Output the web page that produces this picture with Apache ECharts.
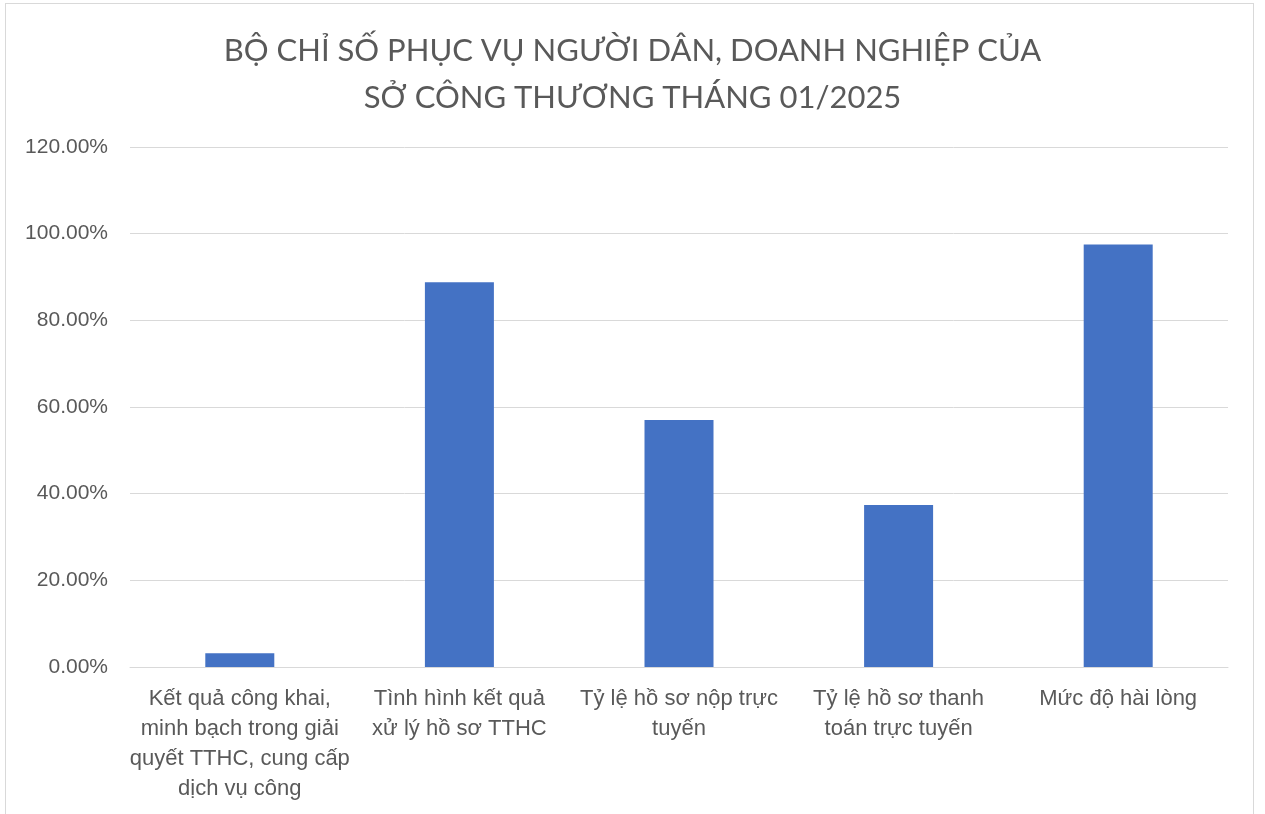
<!DOCTYPE html>
<html>
<head>
<meta charset="utf-8">
<script src="https://cdn.jsdelivr.net/npm/echarts@6/dist/echarts.min.js"></script>
<style>
  html, body { margin: 0; padding: 0; background: #fff; }
  .frame {
    position: absolute; left: 5px; top: 3px; width: 1249px; height: 830px;
    border: 1px solid #d9d9d9; box-sizing: border-box;
  }
  #chart { position: absolute; left: 0; top: 0; width: 1265px; height: 814px; }
</style>
</head>
<body>
<div class="frame"></div>
<div id="chart"></div>
<script>
// tên các chỉ số (xuống dòng như trên hình)
const categories = [
  'Kết quả công khai,\nminh bạch trong giải\nquyết TTHC, cung cấp\ndịch vụ công',
  'Tình hình kết quả\nxử lý hồ sơ TTHC',
  'Tỷ lệ hồ sơ nộp trực\ntuyến',
  'Tỷ lệ hồ sơ thanh\ntoán trực tuyến',
  'Mức độ hài lòng'
];
const values = [0.032, 0.888, 0.570, 0.374, 0.975];
const yTicks = [0, 0.2, 0.4, 0.6, 0.8, 1.0, 1.2];

const titleText = 'BỘ CHỈ SỐ PHỤC VỤ NGƯỜI DÂN, DOANH NGHIỆP CỦA\nSỞ CÔNG THƯƠNG THÁNG 01/2025';

let myChart = echarts.init(document.getElementById('chart'));
myChart.setOption({
  animation: false,
  title: {
    text: titleText,
    left: 'center',
    top: 22,
    textStyle: {
      fontFamily: 'Lato',
      fontWeight: 'normal',
      fontSize: 31,
      lineHeight: 47,
      color: '#595959'
    }
  },
  grid: { left: 130, right: 37, top: 147, bottom: 147 },
  xAxis: {
    type: 'category',
    data: categories,
    axisLine: { lineStyle: { color: '#d9d9d9', width: 1 } },
    axisTick: { show: false },
    axisLabel: {
      interval: 0,
      margin: 17,
      fontFamily: 'Liberation Sans',
      fontSize: 22,
      lineHeight: 30,
      color: '#595959'
    }
  },
  yAxis: {
    type: 'value',
    min: yTicks[0],
    max: yTicks[yTicks.length - 1],
    interval: 0.2,
    axisLine: { show: false },
    axisTick: { show: false },
    splitLine: { lineStyle: { color: '#d9d9d9', width: 1 } },
    axisLabel: {
      margin: 22,
      fontFamily: 'Liberation Sans',
      fontSize: 21,
      color: '#595959',
      formatter: function (v) { return (v * 100).toFixed(2) + '%'; }
    }
  },
  series: [{
    type: 'bar',
    data: values,
    barWidth: 69,
    itemStyle: { color: '#4472C4' }
  }]
});
</script>
</body>
</html>
